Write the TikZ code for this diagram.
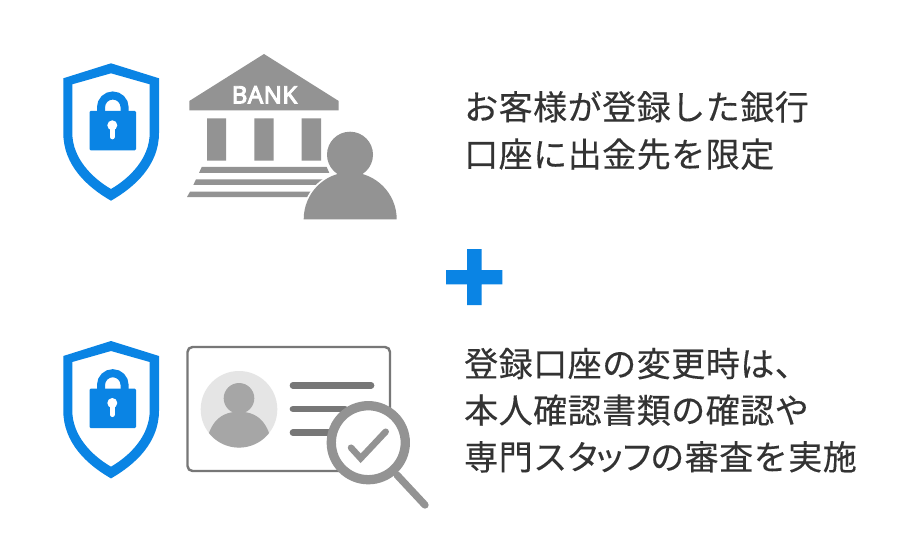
\documentclass[tikz,border=0pt]{standalone}
\usepackage{fontspec}
\newfontfamily\cjk[LetterSpace=1.5,FakeBold=0.25]{Noto Sans CJK JP}
\newfontfamily\bankfont[FakeBold=4,LetterSpace=2]{Noto Sans}
\definecolor{blu}{HTML}{0A84E4}
\definecolor{gry}{HTML}{939393}
\definecolor{dgr}{HTML}{777777}
\definecolor{txt}{HTML}{333333}
\tikzset{
  jp/.style={anchor=base west,inner sep=0pt,text=txt,font=\cjk\fontsize{34}{34}\selectfont},
  pics/guard/.style={code={
    \fill[blu,even odd rule]
      (111,63.3) -- (159,78.3) -- (159,133) .. controls (159,165) and (135,187) .. (111,200.7)
      .. controls (87,187) and (63.3,165) .. (63.3,133) -- (63.3,78.3) -- cycle
      (111,73.3) -- (72.3,84.3) -- (72.3,133) .. controls (72.3,158) and (92,178) .. (111,189)
      .. controls (130,178) and (149.7,158) .. (149.7,133) -- (149.7,84.3) -- cycle;
    \fill[blu,rounded corners=1.2] (89.5,111) rectangle (136,150.3);
    \draw[blu,line width=8] (101,112) -- (101,107.3) arc[start angle=180,end angle=360,radius=11.8] -- (124.6,112);
    \fill[white] (112.3,125.3) circle[radius=5];
    \draw[white,line width=4.7,line cap=round] (112.3,125.3) -- (112.3,137);
  }}
}
\begin{document}
\begin{tikzpicture}[x=1pt,y=-1pt]
\useasboundingbox (0,0) rectangle (920,556);
\fill[white] (0,0) rectangle (920,556);
\pic {guard};
\pic at (0,277.7) {guard};
% bank
\fill[gry] (264,54) -- (338.7,101) -- (338.7,110.3) -- (189.3,110.3) -- (189.3,101) -- cycle;
\node[inner sep=0,text=white,font=\bankfont\fontsize{24}{24}\selectfont] (banklabel) at (264.5,94.8) {BANK};
\fill[gry] (207,118.3) rectangle (226,160.7) (254.3,118.3) rectangle (273.7,160.7) (301.7,118.3) rectangle (321,160.7);
\fill[gry] (201.7,167) -- (326.7,167) -- (329.3,173) -- (199,173) -- cycle;
\fill[gry] (196,179.3) -- (330,179.3) -- (330,185) -- (193.3,185) -- cycle;
\fill[gry] (190,191.7) -- (330,191.7) -- (330,197) -- (187,197) -- cycle;
\draw[white,line width=3.5] (303.7,219.3) .. controls (303.7,193.4) and (324.4,172.3) .. (350,172.3) .. controls (375.6,172.3) and (396.7,193.4) .. (396.7,219.3);
\draw[white,line width=3] (350,154.7) circle[radius=23];
\fill[gry] (303.7,219.3) .. controls (303.7,193.4) and (324.4,172.3) .. (350,172.3) .. controls (375.6,172.3) and (396.7,193.4) .. (396.7,219.3) -- cycle;
\fill[gry] (350,154.7) circle[radius=23];
% card
\draw[dgr,line width=2.4,rounded corners=5] (187.5,347) rectangle (390,471);
\fill[black!10] (239,409.3) circle[radius=38.3];
\begin{scope}
\clip (239,409.3) circle[radius=38.3];
\fill[black!35] (239,398.3) circle[radius=15.3];
\fill[black!35] (239,411.7) .. controls (216,411.7) and (208,428) .. (205,450) -- (273,450) .. controls (270,428) and (262,411.7) .. (239,411.7) -- cycle;
\end{scope}
\draw[dgr,line width=6.7,line cap=round] (293,385.3) -- (371,385.3) (293,409) -- (345,409) (293,432.7) -- (340,432.7);
\filldraw[draw=gry,fill=white,line width=9.3] (368.3,442.7) circle[radius=37];
\draw[gry,line width=7.3,line cap=round] (397,475) -- (425,505);
\draw[gry,line width=6.5,line cap=round,line join=miter] (351,447.7) -- (360.7,458.3) -- (385.7,431.7);
% plus
\fill[blu] (446,270) rectangle (502.3,284.3) (467,249) rectangle (481.7,305);
% text
\node[jp] (a1) at (464,119.7) {お客様が登録した銀行};
\node[jp] (a2) at (464,167) {口座に出金先を限定};
\node[jp] (b1) at (464,376.5) {登録口座の変更時は、};
\node[jp] (b2) at (464,423) {本人確認書類の確認や};
\node[jp] (b3) at (464,469.7) {専門ス\kern-1pt タ\kern-8pt ッ\kern-6pt フ\kern-4pt の審査を実施};
\end{tikzpicture}
\end{document}
